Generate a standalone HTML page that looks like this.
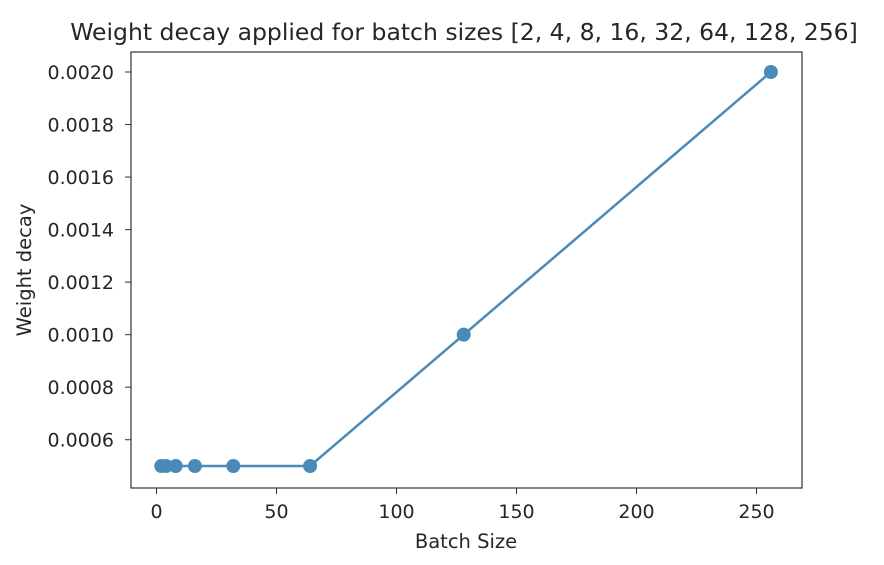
<!DOCTYPE html>
<html><head><meta charset="utf-8"><style>
body{margin:0;background:#fff;}
svg text{font-family:"DejaVu Sans","Liberation Sans",sans-serif;fill:#262626;}
</style></head><body>
<svg width="884" height="560">
<text x="464" y="40" font-size="23.5" text-anchor="middle">Weight decay applied for batch sizes [2, 4, 8, 16, 32, 64, 128, 256]</text>
<g id="axes"></g>
<g id="marks"></g>
<rect x="131" y="52" width="671" height="436" fill="none" stroke="#333" stroke-width="1.2"/>
<text x="466" y="548" font-size="19.5" text-anchor="middle">Batch Size</text>
<text transform="translate(31,270) rotate(-90)" font-size="19.5" text-anchor="middle">Weight decay</text>
</svg>
<script>
const batchSizes=[2,4,8,16,32,64,128,256];
const weightDecay=[0.0005,0.0005,0.0005,0.0005,0.0005,0.0005,0.001,0.002];
const xTicks=[0,50,100,150,200,250];
const yTicks=[0.0006,0.0008,0.0010,0.0012,0.0014,0.0016,0.0018,0.0020];
const ns="http://www.w3.org/2000/svg";
function X(v){return 156.5+v*2.40;}
function Y(v){return 466-(v-0.0005)*262667;}
const axes=document.getElementById('axes'),marks=document.getElementById('marks');
function mk(tag,attrs,parent){const e=document.createElementNS(ns,tag);for(const k in attrs)e.setAttribute(k,attrs[k]);parent.appendChild(e);return e;}
xTicks.forEach(t=>{
  const l=mk('line',{x1:X(t),x2:X(t),y1:488,y2:494,stroke:'#333'},axes);
  
  
  const tx=mk('text',{x:X(t),y:518,'font-size':19,'text-anchor':'middle'},axes);
  tx.textContent=t;
  
  
});
yTicks.forEach(t=>{
  const l=mk('line',{x1:125,x2:131,y1:Y(t),y2:Y(t),stroke:'#333'},axes);
  
  
  const tx=mk('text',{x:114,y:Y(t)+7,'font-size':19,'text-anchor':'end'},axes);
  tx.textContent=t.toFixed(4);
  
  
});
const pts=batchSizes.map((b,i)=>X(b)+','+Y(weightDecay[i])).join(' ');
const pl=mk('polyline',{points:pts,fill:'none',stroke:'#4a8ab9','stroke-width':2.5},marks);


batchSizes.forEach((b,i)=>{
  const c=mk('circle',{cx:X(b),cy:Y(weightDecay[i]),r:7,fill:'#4a8ab9'},marks);
  
  
});
</script>
</body></html>
